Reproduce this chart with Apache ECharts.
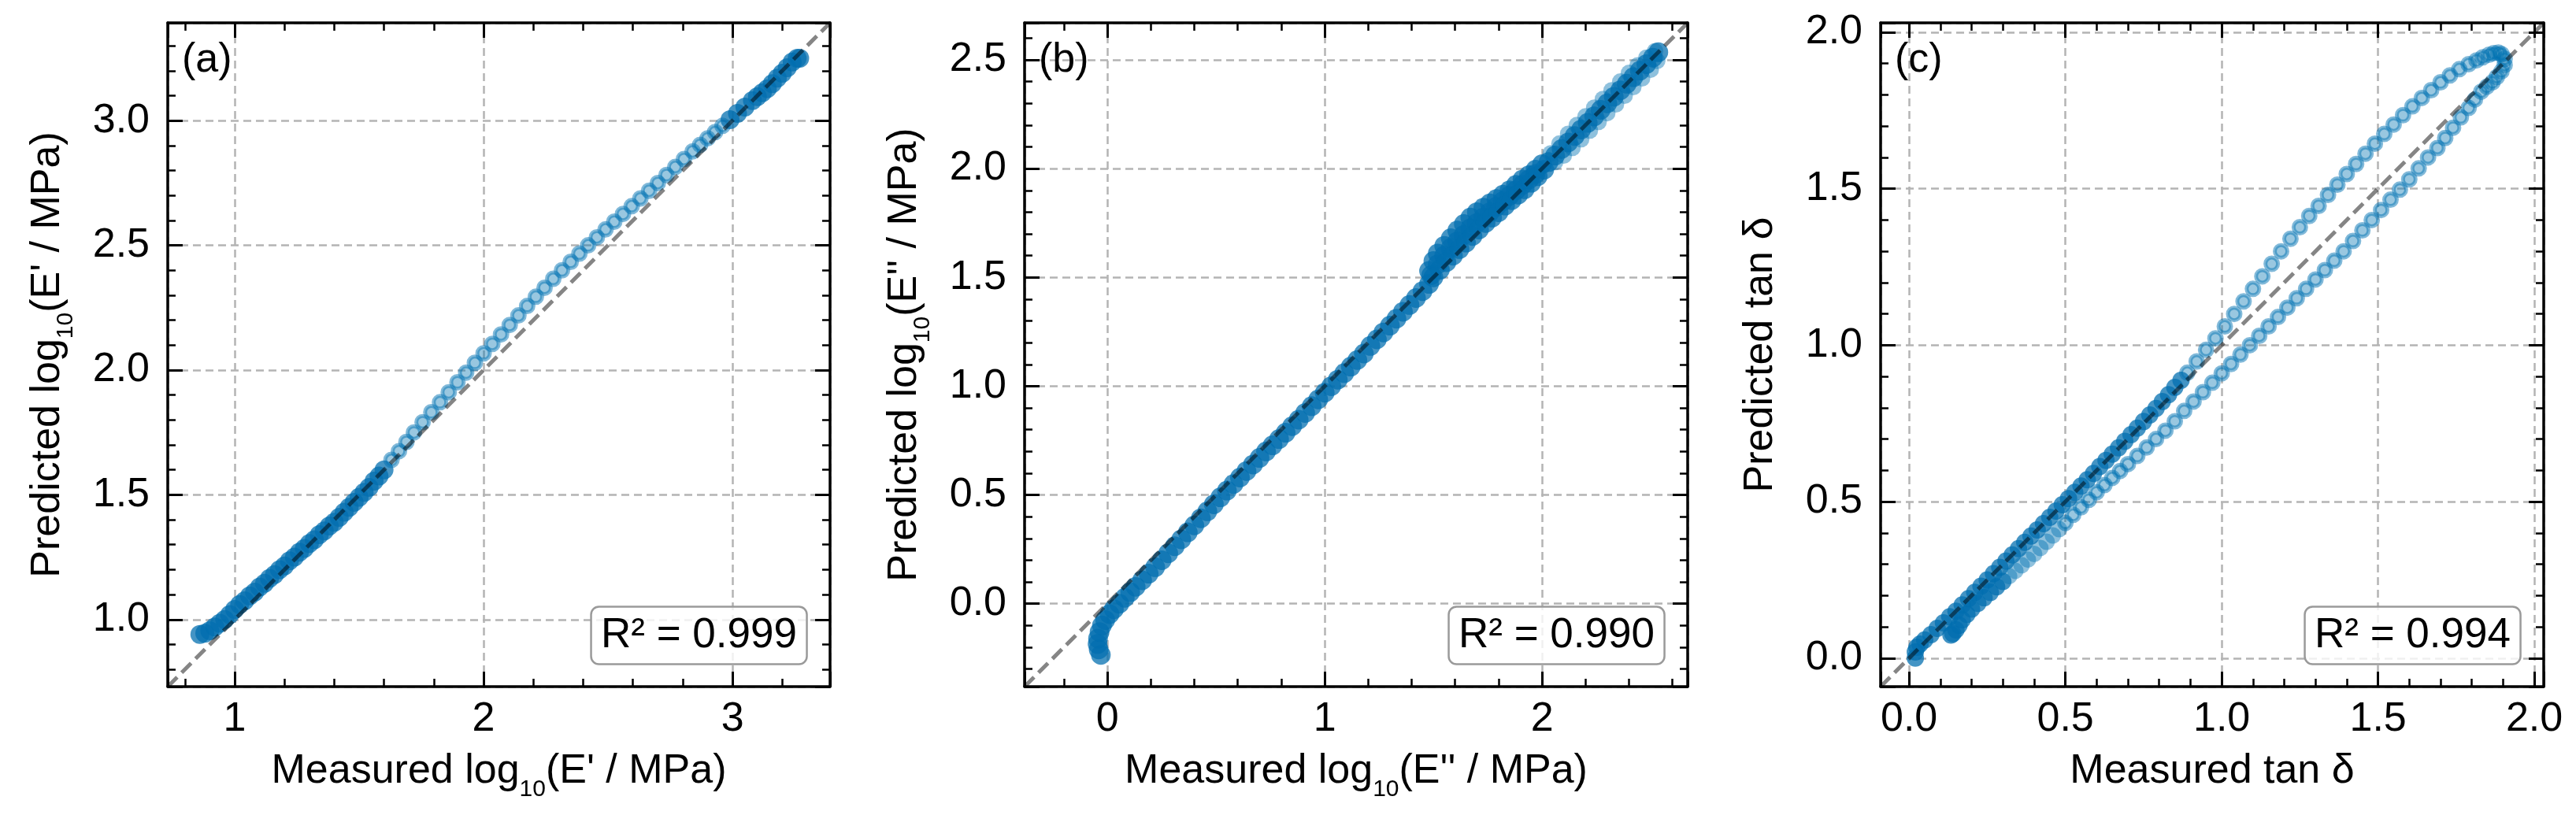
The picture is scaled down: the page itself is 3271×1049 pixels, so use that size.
<!DOCTYPE html>
<html>
<head>
<meta charset="utf-8">
<script src="https://cdn.jsdelivr.net/npm/echarts@6/dist/echarts.min.js"></script>
<style>
  html, body { margin: 0; padding: 0; background: #fff; }
  #chart { width: 3271px; height: 1049px; }
</style>
</head>
<body>
<div id="chart"></div>
<script>
// (a) storage modulus, log10 scale -- packed stretch and separate points
var aDenseMeasured = [0.86, 0.88, 0.90, 0.92, 0.94, 0.96, 0.98, 1.00, 1.02, 1.04, 1.06, 1.08, 1.10, 1.12, 1.14, 1.16, 1.18, 1.20, 1.22, 1.24,
  1.26, 1.28, 1.30, 1.32, 1.34, 1.36, 1.38, 1.40, 1.42, 1.44, 1.46, 1.48, 1.50, 1.52, 1.54, 1.56, 1.58, 1.60,
  2.99, 3.02, 3.05, 3.08, 3.10, 3.12, 3.14, 3.16, 3.18, 3.20, 3.22, 3.24, 3.26, 3.27];
var aDensePredicted = [0.94, 0.945, 0.955, 0.97, 0.985, 1.00, 1.02, 1.04, 1.06, 1.075, 1.095, 1.11, 1.13, 1.145, 1.165, 1.18, 1.20, 1.215, 1.235, 1.25,
  1.27, 1.285, 1.305, 1.32, 1.34, 1.355, 1.375, 1.39, 1.41, 1.43, 1.45, 1.47, 1.49, 1.51, 1.53, 1.555, 1.575, 1.60,
  3.004, 3.029, 3.054, 3.08, 3.096, 3.112, 3.128, 3.148, 3.17, 3.19, 3.212, 3.235, 3.25, 3.25];
var aRingMeasured = [1.63, 1.66, 1.69, 1.72, 1.755, 1.79, 1.825, 1.86, 1.895, 1.93, 1.965, 2.00, 2.035, 2.07, 2.105, 2.14, 2.175, 2.21, 2.245, 2.28,
  2.315, 2.35, 2.385, 2.42, 2.455, 2.49, 2.525, 2.56, 2.595, 2.63, 2.665, 2.70, 2.735, 2.77, 2.805, 2.84, 2.87, 2.90, 2.93, 2.96];
var aRingPredicted = [1.64, 1.675, 1.712, 1.75, 1.791, 1.831, 1.871, 1.911, 1.951, 1.99, 2.029, 2.067, 2.105, 2.143, 2.181, 2.219, 2.257, 2.294, 2.33, 2.366,
  2.40, 2.434, 2.467, 2.50, 2.532, 2.564, 2.595, 2.626, 2.657, 2.688, 2.719, 2.75, 2.782, 2.814, 2.846, 2.877, 2.903, 2.929, 2.954, 2.979];
var aHazeMeasured = [];
var aHazePredicted = [];

// (b) loss modulus, log10 scale
var bDenseMeasured = [-0.03, -0.04, -0.045, -0.043, -0.036, -0.025, -0.01, 0.01, 0.03, 0.055, 0.08, 0.105, 0.13, 0.16, 0.19, 0.22, 0.25, 0.28, 0.31, 0.34,
  0.37, 0.40, 0.43, 0.46, 0.49, 0.52, 0.55, 0.58, 0.61, 0.64, 0.67, 0.70, 0.73, 0.76, 0.79, 0.82, 0.85, 0.88, 0.91, 0.94,
  0.97, 1.00, 1.03, 1.06, 1.09, 1.12, 1.15, 1.18, 1.21, 1.24, 1.27, 1.30, 1.33, 1.36, 1.39, 1.42, 1.45, 1.48,
  1.48, 1.50, 1.52, 1.55, 1.58, 1.61, 1.64, 1.67, 1.70, 1.73, 1.76, 1.79, 1.82, 1.85, 1.88, 1.91, 1.94, 1.97, 2.00,
  1.49, 1.52, 1.55, 1.58, 1.61, 1.64, 1.67, 1.70, 1.73, 1.76, 1.79, 1.82, 1.85, 1.88, 1.91, 1.94, 1.97,
  1.50, 1.53, 1.56, 1.59, 1.62, 1.65, 1.68, 1.71, 1.74, 1.77, 1.80, 1.83, 1.86, 1.89, 1.92, 1.95, 1.98, 2.01,
  2.03, 2.06, 2.09, 2.12, 2.15, 2.18, 2.21, 2.24, 2.27, 2.30, 2.33, 2.36, 2.39, 2.42, 2.45, 2.48, 2.51, 2.535];
var bDensePredicted = [-0.235, -0.21, -0.185, -0.16, -0.13, -0.10, -0.075, -0.048, -0.025, 0.0, 0.027, 0.053, 0.078, 0.108, 0.138, 0.168, 0.20, 0.232, 0.264, 0.296,
  0.328, 0.36, 0.393, 0.425, 0.457, 0.489, 0.52, 0.55, 0.58, 0.61, 0.64, 0.67, 0.70, 0.728, 0.757, 0.786, 0.816, 0.846, 0.877, 0.908,
  0.939, 0.97, 1.00, 1.03, 1.06, 1.09, 1.12, 1.15, 1.185, 1.215, 1.247, 1.278, 1.31, 1.342, 1.373, 1.405, 1.437, 1.47,
  1.53, 1.575, 1.61, 1.645, 1.68, 1.715, 1.745, 1.775, 1.80, 1.82, 1.84, 1.86, 1.88, 1.90, 1.925, 1.95, 1.97, 1.995, 2.02,
  1.51, 1.56, 1.60, 1.635, 1.665, 1.695, 1.725, 1.75, 1.775, 1.80, 1.825, 1.85, 1.875, 1.90, 1.925, 1.95, 1.975,
  1.50, 1.535, 1.57, 1.60, 1.63, 1.66, 1.69, 1.72, 1.75, 1.775, 1.80, 1.83, 1.855, 1.88, 1.905, 1.935, 1.965, 1.995,
  2.03, 2.06, 2.09, 2.12, 2.15, 2.18, 2.21, 2.24, 2.27, 2.30, 2.33, 2.36, 2.39, 2.42, 2.45, 2.48, 2.51, 2.535];
var bRingMeasured = [];
var bRingPredicted = [];
var bHazeMeasured = [2.04, 2.08, 2.12, 2.16, 2.20, 2.24, 2.28, 2.32, 2.36, 2.40, 2.44, 2.48, 2.52,
  2.06, 2.10, 2.14, 2.18, 2.22, 2.26, 2.30, 2.34, 2.38, 2.42, 2.46, 2.50, 2.53];
var bHazePredicted = [2.07, 2.115, 2.16, 2.20, 2.24, 2.28, 2.32, 2.36, 2.40, 2.44, 2.475, 2.51, 2.54,
  2.03, 2.06, 2.095, 2.135, 2.175, 2.215, 2.255, 2.295, 2.335, 2.375, 2.415, 2.455, 2.495];

// (c) loss tangent
var cDenseMeasured = [0.02, 0.02, 0.025, 0.035, 0.05, 0.07, 0.09, 0.11, 0.13, 0.15, 0.17, 0.19, 0.21, 0.23, 0.25, 0.27, 0.29, 0.31, 0.33, 0.35,
  0.37, 0.39, 0.41, 0.43, 0.45, 0.47, 0.49, 0.51, 0.53, 0.55, 0.57, 0.59, 0.61, 0.63, 0.65, 0.67, 0.69, 0.71, 0.73, 0.75,
  0.77, 0.79, 0.81, 0.83, 0.85, 0.87,
  0.30, 0.28, 0.26, 0.24, 0.22, 0.20, 0.185, 0.17, 0.16, 0.15, 0.14, 0.134];
var cDensePredicted = [0.0, 0.02, 0.035, 0.045, 0.058, 0.075, 0.095, 0.113, 0.132, 0.15, 0.17, 0.19, 0.21, 0.23, 0.25, 0.27, 0.29, 0.31, 0.33, 0.35,
  0.37, 0.39, 0.41, 0.43, 0.45, 0.47, 0.49, 0.51, 0.53, 0.55, 0.57, 0.59, 0.612, 0.632, 0.652, 0.672, 0.693, 0.714, 0.735, 0.756,
  0.777, 0.798, 0.82, 0.842, 0.865, 0.888,
  0.245, 0.228, 0.21, 0.193, 0.175, 0.157, 0.14, 0.122, 0.105, 0.09, 0.078, 0.074];
var cRingMeasured = [0.89, 0.92, 0.95, 0.98, 1.01, 1.04, 1.07, 1.10, 1.13, 1.16, 1.19, 1.22, 1.25, 1.28, 1.31, 1.34, 1.37, 1.40, 1.43, 1.46,
  1.49, 1.52, 1.55, 1.58, 1.61, 1.64, 1.67, 1.70, 1.73, 1.76, 1.79, 1.815, 1.835, 1.855, 1.87, 1.885, 1.895,
  1.905, 1.905, 1.895, 1.88, 1.866, 1.848, 1.83, 1.81, 1.79, 1.765, 1.74, 1.715, 1.69, 1.66, 1.63, 1.60, 1.57, 1.54, 1.51, 1.48,
  1.45, 1.42, 1.39, 1.36, 1.33, 1.30, 1.27, 1.24, 1.21, 1.18, 1.15, 1.12, 1.09, 1.06, 1.03, 1.00, 0.97, 0.94, 0.91, 0.88,
  0.85, 0.82, 0.79, 0.76, 0.73, 0.70, 0.675, 0.65, 0.625, 0.60, 0.575, 0.55, 0.525, 0.50];
var cRingPredicted = [0.912, 0.948, 0.985, 1.022, 1.06, 1.10, 1.14, 1.18, 1.22, 1.26, 1.30, 1.34, 1.377, 1.413, 1.445, 1.48, 1.513, 1.547, 1.579, 1.612,
  1.644, 1.675, 1.705, 1.735, 1.763, 1.79, 1.815, 1.84, 1.862, 1.882, 1.898, 1.91, 1.92, 1.928, 1.933, 1.935, 1.93,
  1.915, 1.895, 1.875, 1.857, 1.84, 1.826, 1.81, 1.785, 1.758, 1.728, 1.695, 1.662, 1.63, 1.60, 1.565, 1.53, 1.497, 1.465, 1.432, 1.40,
  1.367, 1.333, 1.30, 1.27, 1.24, 1.21, 1.18, 1.15, 1.12, 1.09, 1.06, 1.03, 1.00, 0.97, 0.94, 0.91, 0.88, 0.85, 0.82, 0.79,
  0.757, 0.727, 0.70, 0.673, 0.646, 0.62, 0.598, 0.576, 0.553, 0.53, 0.506, 0.482, 0.458, 0.432];
var cHazeMeasured = [0.48, 0.46, 0.44, 0.42, 0.40, 0.38, 0.36, 0.34, 0.32];
var cHazePredicted = [0.412, 0.392, 0.372, 0.352, 0.333, 0.315, 0.297, 0.279, 0.262];

// axis limits (same on x and y), labels
var aLimits = [0.731, 3.392];
var bLimits = [-0.381, 2.67];
var cLimits = [-0.091, 2.03];
var panelLetters = ['(a)', '(b)', '(c)'];
var r2Labels = ['R² = 0.999', 'R² = 0.990', 'R² = 0.994'];
var xNames = ['Measured log{sub|10}(E\' / MPa)', 'Measured log{sub|10}(E\'\' / MPa)', 'Measured tan δ'];
var yNames = ['Predicted log{sub|10}(E\' / MPa)', 'Predicted log{sub|10}(E\'\' / MPa)', 'Predicted tan δ'];

var FONT = '"Liberation Sans", Arial, Helvetica, sans-serif';
var FS = 52;
var W = 3271, H = 1049;
var TOP = 29, SIZE = 843;
var lefts = [213, 1301, 2388];
var widths = [841, 842, 842];

var chart = echarts.init(document.getElementById('chart'), null, { renderer: 'canvas' });

function pairs(xs, ys) {
  var out = [];
  for (var i = 0; i < xs.length; i++) out.push([xs[i], ys[i]]);
  return out;
}

var nameStyle = {
  fontSize: FS, fontFamily: FONT, color: '#000', lineHeight: 60,
  rich: {
    sub: { fontSize: 30, fontFamily: FONT, color: '#000', lineHeight: 30, padding: [46, 0, 0, 0] }
  }
};

function axis(gi, lim, step, pos, main, digits, name, gap) {
  var ax = {
    type: 'value', gridIndex: gi, position: pos,
    min: lim[0], max: lim[1], minInterval: step, maxInterval: step, splitNumber: 5,
    axisLine: { show: true, onZero: false, lineStyle: { color: '#000', width: 3.5 } },
    axisTick: { show: true, inside: true, length: 19, lineStyle: { color: '#000', width: 3 } },
    minorTick: { show: true, splitNumber: 5, length: 10, lineStyle: { color: '#000', width: 2.5 } },
    splitLine: { show: false },
    minorSplitLine: { show: false },
    axisLabel: { show: false }
  };
  if (main) {
    ax.splitLine = { show: true, lineStyle: { color: '#b4b4b4', width: 2.5, type: [10, 6] } };
    ax.axisLabel = {
      show: true, margin: (pos == 'bottom') ? 16 : 23, fontSize: FS, fontFamily: FONT, color: '#000',
      showMinLabel: false, showMaxLabel: false,
      formatter: function (v) { return v.toFixed(digits); }
    };
    ax.name = name;
    ax.nameLocation = 'middle';
    ax.nameGap = gap;
    ax.nameMoveOverlap = false;
    ax.nameTextStyle = nameStyle;
    if (pos == 'left') ax.nameRotate = 90;
  }
  return ax;
}

var limits = [aLimits, bLimits, cLimits];
var steps = [[1, 0.5], [1, 0.5], [0.5, 0.5]];
var xDigits = [0, 0, 1];
var denseData = [pairs(aDenseMeasured, aDensePredicted), pairs(bDenseMeasured, bDensePredicted), pairs(cDenseMeasured, cDensePredicted)];
var ringData = [pairs(aRingMeasured, aRingPredicted), pairs(bRingMeasured, bRingPredicted), pairs(cRingMeasured, cRingPredicted)];
var hazeData = [pairs(aHazeMeasured, aHazePredicted), pairs(bHazeMeasured, bHazePredicted), pairs(cHazeMeasured, cHazePredicted)];
var denseSize = [24, 25, 22];

var grids = [], xAxes = [], yAxes = [], series = [], titles = [];
for (var g = 0; g < 3; g++) {
  var lim = limits[g];
  grids.push({ left: lefts[g], top: TOP, width: widths[g], height: SIZE, outerBoundsMode: 'none' });
  xAxes.push(axis(g, lim, steps[g][0], 'bottom', true, xDigits[g], xNames[g], 78));
  xAxes.push(axis(g, lim, steps[g][0], 'top', false));
  yAxes.push(axis(g, lim, steps[g][1], 'left', true, 1, yNames[g], 122));
  yAxes.push(axis(g, lim, steps[g][1], 'right', false));

  // separate, see-through markers (ring look: edge overlaps face)
  series.push({
    type: 'scatter', xAxisIndex: 2 * g, yAxisIndex: 2 * g,
    data: ringData[g], symbolSize: 16, z: 3,
    itemStyle: { color: 'rgba(0,114,178,0.5)', borderColor: 'rgba(0,114,178,0.62)', borderWidth: 5 },
    emphasis: { disabled: true }
  });
  // overlapping markers that read as a lighter fringe
  series.push({
    type: 'scatter', xAxisIndex: 2 * g, yAxisIndex: 2 * g,
    data: hazeData[g], symbolSize: 21, z: 3,
    itemStyle: { color: 'rgba(0,114,178,0.55)' },
    emphasis: { disabled: true }
  });
  // tightly packed markers, they merge into a solid band
  series.push({
    type: 'scatter', xAxisIndex: 2 * g, yAxisIndex: 2 * g,
    data: denseData[g], symbolSize: denseSize[g], z: 3,
    itemStyle: { color: 'rgba(2,110,175,0.92)' },
    emphasis: { disabled: true }
  });
  // y = x reference
  series.push({
    type: 'line', xAxisIndex: 2 * g, yAxisIndex: 2 * g,
    data: [[lim[0], lim[0]], [lim[1], lim[1]]],
    symbol: 'none', z: 5, silent: true,
    lineStyle: { color: 'rgba(0,0,0,0.48)', width: 5, type: [17, 8] }
  });

  titles.push({
    text: panelLetters[g], left: lefts[g] + 18, top: TOP + 22, padding: 0,
    textStyle: { fontSize: FS, fontWeight: 'normal', fontFamily: FONT, color: '#000' }
  });
  titles.push({
    text: r2Labels[g],
    right: W - (lefts[g] + widths[g] - 29), bottom: H - (TOP + SIZE - 28),
    padding: [9, 13], backgroundColor: 'rgba(255,255,255,0.8)',
    borderColor: '#9a9a9a', borderWidth: 2.5, borderRadius: 10,
    textStyle: { fontSize: 53, fontWeight: 'normal', fontFamily: FONT, color: '#000', lineHeight: 56 }
  });
}

chart.setOption({
  animation: false,
  backgroundColor: '#fff',
  title: titles,
  grid: grids,
  xAxis: xAxes,
  yAxis: yAxes,
  series: series
});
</script>
</body>
</html>
